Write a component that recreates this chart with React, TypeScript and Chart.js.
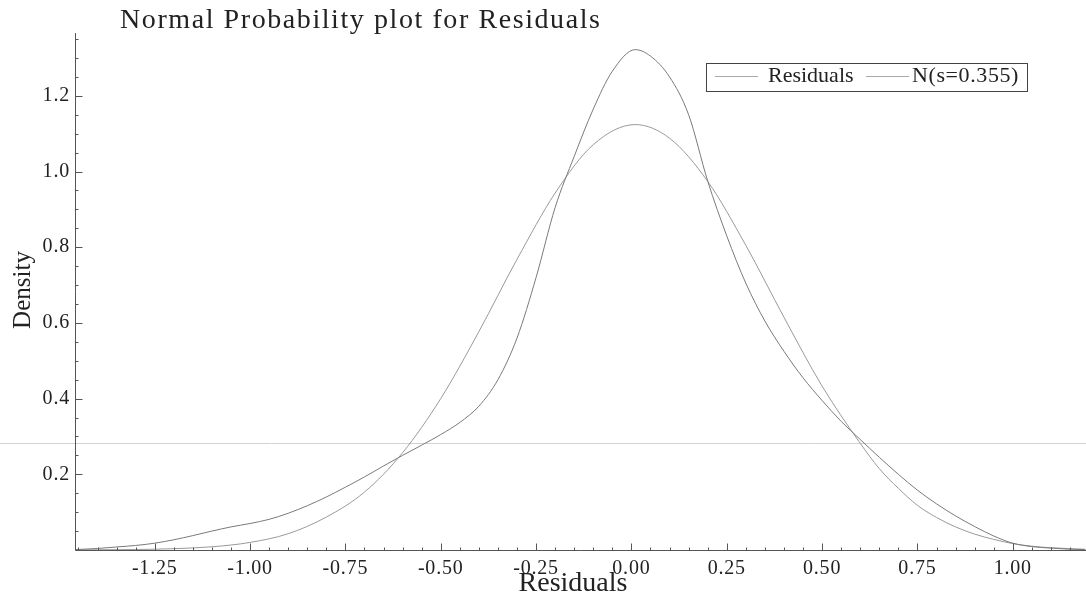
import React, { useEffect, useRef } from 'react';
import { Chart, registerables } from 'chart.js';

Chart.register(...registerables);

const TITLE = 'Normal Probability plot for Residuals';
const X_LABEL = 'Residuals';
const Y_LABEL = 'Density';
const SERIES_NAMES = ['Residuals', 'N(s=0.355)'];

// Kernel density of the residuals
const KDE_X = [-1.46, -1.40, -1.35, -1.30, -1.25, -1.20, -1.15, -1.10, -1.05, -1.00, -0.95, -0.90, -0.85, -0.80, -0.75, -0.70, -0.65, -0.60, -0.55, -0.50, -0.45, -0.40, -0.35, -0.30, -0.25, -0.20, -0.15, -0.10, -0.05, 0.01, 0.05, 0.10, 0.15, 0.20, 0.25, 0.30, 0.35, 0.40, 0.45, 0.50, 0.55, 0.60, 0.65, 0.70, 0.75, 0.80, 0.85, 0.90, 0.95, 1.00, 1.05, 1.10, 1.15, 1.19];
const KDE_Y = [0.001, 0.004, 0.008, 0.012, 0.018, 0.027, 0.038, 0.050, 0.061, 0.070, 0.081, 0.097, 0.117, 0.140, 0.166, 0.193, 0.222, 0.250, 0.277, 0.305, 0.337, 0.380, 0.450, 0.560, 0.720, 0.905, 1.040, 1.165, 1.265, 1.322, 1.305, 1.250, 1.150, 0.975, 0.830, 0.705, 0.605, 0.525, 0.455, 0.395, 0.340, 0.292, 0.245, 0.200, 0.158, 0.122, 0.090, 0.062, 0.037, 0.018, 0.009, 0.005, 0.002, 0.001];

// Fitted normal curve
const NORM_X = [-1.46, -1.40, -1.30, -1.20, -1.10, -1.00, -0.90, -0.80, -0.70, -0.60, -0.50, -0.40, -0.30, -0.20, -0.10, 0.01, 0.10, 0.20, 0.30, 0.40, 0.50, 0.60, 0.65, 0.70, 0.75, 0.80, 0.85, 0.90, 0.95, 1.00, 1.05, 1.10, 1.19];
const NORM_Y = [0.0003, 0.0005, 0.0013, 0.0035, 0.0085, 0.020, 0.043, 0.087, 0.153, 0.257, 0.400, 0.577, 0.768, 0.943, 1.071, 1.124, 1.088, 0.974, 0.805, 0.615, 0.433, 0.282, 0.215, 0.163, 0.118, 0.086, 0.061, 0.042, 0.028, 0.017, 0.010, 0.006, 0.002];

const X_TICKS = [-1.25, -1.0, -0.75, -0.5, -0.25, 0, 0.25, 0.5, 0.75, 1.0];
const Y_TICKS = [0.2, 0.4, 0.6, 0.8, 1.0, 1.2];
const X_MAJOR = 0.25;
const X_MINOR = 0.05;
const Y_MAJOR = 0.2;
const Y_MINOR = 0.05;
const X_RANGE = [-1.459, 1.192];
const Y_RANGE = [0, 1.366];
const REF_LINE = 0.283;

const FONT = '"Liberation Serif", "Times New Roman", serif';
const AXIS_COLOR = '#555555';
const KDE_COLOR = '#7a7a7a';
const NORM_COLOR = '#999999';

function isMultiple(v: number, step: number) {
  const r = v / step;
  return Math.abs(r - Math.round(r)) < 1e-6;
}

const decorPlugin = {
  id: 'decor',
  beforeDraw(chart: any) {
    chart.ctx.letterSpacing = '0.8px';
  },
  beforeDatasetsDraw(chart: any) {
    const { ctx, scales } = chart;
    const py = Math.round(scales.y.getPixelForValue(REF_LINE)) + 0.5;
    ctx.save();
    ctx.strokeStyle = '#d2d2d2';
    ctx.lineWidth = 1;
    ctx.beginPath();
    ctx.moveTo(0, py);
    ctx.lineTo(chart.width, py);
    ctx.stroke();
    ctx.restore();
  },
  afterDraw(chart: any) {
    const { ctx, chartArea, scales } = chart;
    const xs = scales.x;
    const ys = scales.y;
    ctx.save();
    ctx.letterSpacing = '0px';
    ctx.strokeStyle = AXIS_COLOR;
    ctx.lineWidth = 1;
    const left = Math.round(chartArea.left) + 0.5;
    const bottom = Math.round(chartArea.bottom) + 0.5;
    ctx.beginPath();
    ctx.moveTo(left, chartArea.top);
    ctx.lineTo(left, bottom);
    ctx.lineTo(chartArea.right, bottom);
    ctx.stroke();

    // x ticks (pointing up, into the plot)
    ctx.beginPath();
    const kx0 = Math.ceil(xs.min / X_MINOR - 1e-6);
    const kx1 = Math.floor(xs.max / X_MINOR + 1e-6);
    for (let k = kx0; k <= kx1; k++) {
      const v = k * X_MINOR;
      const px = Math.round(xs.getPixelForValue(v)) + 0.5;
      const len = isMultiple(v, X_MAJOR) ? 7 : 3;
      ctx.moveTo(px, bottom);
      ctx.lineTo(px, bottom - len);
    }
    // y ticks (pointing right)
    const ky0 = Math.ceil(ys.min / Y_MINOR - 1e-6) + 1;
    const ky1 = Math.floor(ys.max / Y_MINOR + 1e-6);
    for (let k = ky0; k <= ky1; k++) {
      const v = k * Y_MINOR;
      const py = Math.round(ys.getPixelForValue(v)) + 0.5;
      const len = isMultiple(v, Y_MAJOR) ? 7 : 3;
      ctx.moveTo(left, py);
      ctx.lineTo(left + len, py);
    }
    ctx.stroke();

    // Title
    ctx.fillStyle = '#222222';
    ctx.font = `28px ${FONT}`;
    ctx.textAlign = 'left';
    ctx.textBaseline = 'alphabetic';
    const w = ctx.measureText(TITLE).width;
    const sp = Math.max(0, (480 - w) / (TITLE.length - 1));
    ctx.letterSpacing = `${sp.toFixed(2)}px`;
    ctx.fillText(TITLE, 120, 28);
    ctx.letterSpacing = '0px';

    // X axis title
    ctx.font = `28px ${FONT}`;
    ctx.textAlign = 'center';
    ctx.textBaseline = 'middle';
    ctx.fillText(X_LABEL, 573, 584);

    // Y axis title
    ctx.save();
    ctx.translate(23, 290);
    ctx.rotate(-Math.PI / 2);
    ctx.font = `25px ${FONT}`;
    ctx.fillText(Y_LABEL, 0, 0);
    ctx.restore();

    // Legend box
    const bx0 = 706.5, by0 = 63.5, bx1 = 1027.5, by1 = 91.5;
    ctx.fillStyle = '#ffffff';
    ctx.fillRect(bx0, by0, bx1 - bx0, by1 - by0);
    ctx.strokeStyle = '#444444';
    ctx.strokeRect(bx0, by0, bx1 - bx0, by1 - by0);
    const ds = chart.data.datasets;
    const entries = [
      { lx: 715, lw: 43, tx: 768, ls: 0 },
      { lx: 866, lw: 43, tx: 912, ls: 0.6 },
    ];
    ctx.font = `22px ${FONT}`;
    ctx.textAlign = 'left';
    ctx.textBaseline = 'alphabetic';
    entries.forEach((e, i) => {
      ctx.strokeStyle = '#aaaaaa';
      ctx.beginPath();
      ctx.moveTo(e.lx, 76.5);
      ctx.lineTo(e.lx + e.lw, 76.5);
      ctx.stroke();
      ctx.fillStyle = '#222222';
      ctx.letterSpacing = `${e.ls}px`;
      ctx.fillText(ds[i].label, e.tx, 82);
    });
    ctx.restore();
  },
};

export default function App() {
  const canvasRef = useRef<HTMLCanvasElement | null>(null);

  useEffect(() => {
    document.body.style.margin = '0';
    const canvas = canvasRef.current;
    if (!canvas) return;
    const chart = new Chart(canvas, {
      type: 'line',
      data: {
        datasets: [
          {
            label: SERIES_NAMES[0],
            data: KDE_X.map((x, i) => ({ x, y: KDE_Y[i] })),
            borderColor: KDE_COLOR,
            borderWidth: 1,
            pointRadius: 0,
            fill: false,
            cubicInterpolationMode: 'monotone',
          },
          {
            label: SERIES_NAMES[1],
            data: NORM_X.map((x, i) => ({ x, y: NORM_Y[i] })),
            borderColor: NORM_COLOR,
            borderWidth: 1,
            pointRadius: 0,
            fill: false,
            cubicInterpolationMode: 'monotone',
          },
        ],
      },
      options: {
        animation: false,
        responsive: true,
        maintainAspectRatio: false,
        events: [],
        layout: { padding: { top: 33, left: 0, right: 0, bottom: 0 } },
        plugins: {
          legend: { display: false },
          title: { display: false },
          tooltip: { enabled: false },
        },
        scales: {
          x: {
            type: 'linear',
            min: X_RANGE[0],
            max: X_RANGE[1],
            grid: { display: false, drawTicks: false },
            border: { display: false },
            afterBuildTicks: (s: any) => {
              s.ticks = X_TICKS.map((v) => ({ value: v }));
            },
            afterFit: (s: any) => {
              s.height = 52;
            },
            ticks: {
              autoSkip: false,
              maxRotation: 0,
              padding: 7,
              color: '#222222',
              font: { family: FONT, size: 20 },
              callback: (v: any) => Number(v).toFixed(2),
            },
          },
          y: {
            type: 'linear',
            min: Y_RANGE[0],
            max: Y_RANGE[1],
            grid: { display: false, drawTicks: false },
            border: { display: false },
            afterBuildTicks: (s: any) => {
              s.ticks = Y_TICKS.map((v) => ({ value: v }));
            },
            afterFit: (s: any) => {
              s.width = 75;
            },
            ticks: {
              autoSkip: false,
              padding: 5,
              color: '#222222',
              font: { family: FONT, size: 20 },
              callback: (v: any) => Number(v).toFixed(1),
            },
          },
        },
      },
      plugins: [decorPlugin],
    } as any);
    return () => chart.destroy();
  }, []);

  return (
    <div style={{ width: 1086, height: 602, position: 'relative' }}>
      <canvas ref={canvasRef} />
    </div>
  );
}
